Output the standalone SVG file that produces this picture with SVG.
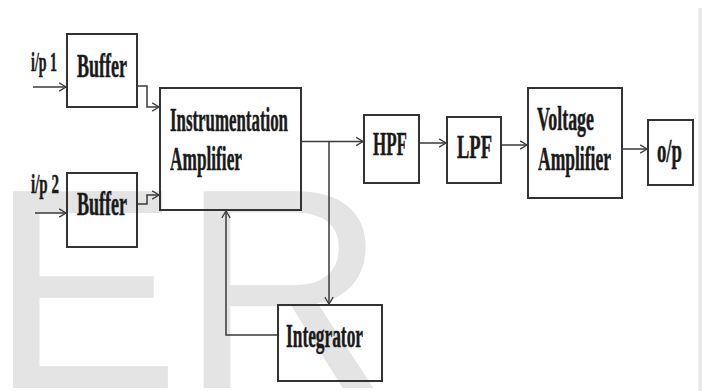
<svg xmlns="http://www.w3.org/2000/svg" width="702" height="391" viewBox="0 0 702 391">
  <style>
    .box { fill: none; stroke: #333; stroke-width: 2; }
    .wire { fill: none; stroke: #3a3a3a; stroke-width: 1.5; }
    .lbl { font-family: "Liberation Serif", "Times New Roman", serif; font-weight: bold; font-size: 33px; fill: #1a1a1a; stroke: #1a1a1a; stroke-width: 0.5; }
    .small { font-size: 28px; }
    .mark { font-family: "Liberation Sans", Arial, sans-serif; font-size: 286px; fill: #e4e4e4; }
  </style>
  <defs>
    <marker id="chev" viewBox="0 0 10 12" refX="9.5" refY="6" markerWidth="8" markerHeight="11" markerUnits="userSpaceOnUse" orient="auto">
      <path d="M1,0.8 L9.5,6 L1,11.2" fill="none" stroke="#3a3a3a" stroke-width="1.6"/>
    </marker>
  </defs>

  <rect width="702" height="391" fill="#ffffff"/>

  <!-- background lettering -->
  <text class="mark" x="-10.6" y="388">ER</text>
  <rect x="698.5" y="8" width="3.5" height="383" fill="#e8e8e8"/>

  <g id="connectors">
    <path class="wire" d="M33,87 H66" marker-end="url(#chev)"/>
    <path class="wire" d="M35,213 H66" marker-end="url(#chev)"/>
    <path class="wire" d="M137,86 H147 V107 H159" marker-end="url(#chev)"/>
    <path class="wire" d="M137,204 H147 V195 H159" marker-end="url(#chev)"/>
    <path class="wire" d="M301,141.5 H363" marker-end="url(#chev)"/>
    <path class="wire" d="M329,141.5 V304" marker-end="url(#chev)"/>
    <path class="wire" d="M278,335 H226 V211" marker-end="url(#chev)"/>
    <path class="wire" d="M419,143 H446" stroke-width="2" marker-end="url(#chev)"/>
    <path class="wire" d="M501,145 H527" stroke-width="3" marker-end="url(#chev)"/>
    <path class="wire" d="M622,149 H647" stroke-width="2" marker-end="url(#chev)"/>
  </g>

  <g id="input1">
    <text class="lbl small" x="31" y="71" textLength="26" lengthAdjust="spacingAndGlyphs">i/p 1</text>
  </g>
  <g id="input2">
    <text class="lbl small" x="31" y="193" textLength="28" lengthAdjust="spacingAndGlyphs">i/p 2</text>
  </g>

  <g id="buffer1">
    <rect class="box" x="67" y="34" width="70" height="73"/>
    <text class="lbl" x="77" y="77" textLength="50" lengthAdjust="spacingAndGlyphs">Buffer</text>
  </g>
  <g id="buffer2">
    <rect class="box" x="67" y="173" width="70" height="74"/>
    <text class="lbl" x="77" y="215" textLength="50" lengthAdjust="spacingAndGlyphs">Buffer</text>
  </g>

  <g id="inst-amp">
    <rect class="box" x="160" y="88" width="141" height="122"/>
    <text class="lbl" x="170" y="131" textLength="118" lengthAdjust="spacingAndGlyphs">Instrumentation</text>
    <text class="lbl" x="170" y="170" textLength="72" lengthAdjust="spacingAndGlyphs">Amplifier</text>
  </g>

  <g id="hpf">
    <rect class="box" x="364" y="115" width="55" height="68"/>
    <text class="lbl" x="373" y="155" textLength="34" lengthAdjust="spacingAndGlyphs">HPF</text>
  </g>

  <g id="lpf">
    <rect class="box" x="447" y="117" width="54" height="66"/>
    <text class="lbl" x="457" y="158" textLength="35" lengthAdjust="spacingAndGlyphs">LPF</text>
  </g>

  <g id="volt-amp">
    <rect class="box" x="528" y="88" width="94" height="110"/>
    <text class="lbl" x="537" y="130" textLength="57" lengthAdjust="spacingAndGlyphs">Voltage</text>
    <text class="lbl" x="538" y="170" textLength="73" lengthAdjust="spacingAndGlyphs">Amplifier</text>
  </g>

  <g id="output">
    <rect class="box" x="648" y="120" width="45" height="65"/>
    <text class="lbl" x="657" y="162" textLength="25" lengthAdjust="spacingAndGlyphs">o/p</text>
  </g>

  <g id="integrator">
    <rect class="box" x="278" y="305" width="104" height="76"/>
    <text class="lbl" x="286" y="347" textLength="77" lengthAdjust="spacingAndGlyphs">Integrator</text>
  </g>
</svg>
